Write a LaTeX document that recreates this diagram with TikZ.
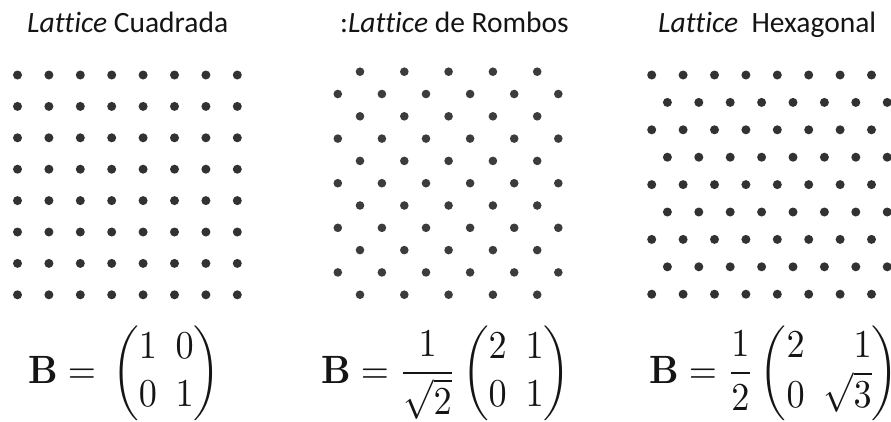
\documentclass[tikz,border=0pt]{standalone}
\usepackage{amsmath}
\usepackage{mathtools}
\usepackage{graphicx}
\usepackage[no-math]{fontspec}
\usepackage{tikz}
\usetikzlibrary{positioning}
\newfontfamily\calibfont[Ligatures={NoCommon}]{Carlito}
\definecolor{dotgray}{HTML}{323232}
\definecolor{dotlight}{HTML}{3C3C3C}
\definecolor{textdark}{HTML}{151515}
% scaled display formula, a little taller than wide
\newcommand{\bigmath}[1]{\scalebox{3.62}[3.95]{$\displaystyle\setlength\arraycolsep{2.6pt}#1$}}
\tikzset{
  % lattice points
  latdot/.style={fill=dotgray},
  rombdot/.style={fill=dotlight},
  % headings above each lattice
  title/.style={
    font=\calibfont\fontsize{29.5}{34}\selectfont, text=textdark,
    inner sep=0pt, anchor=base west,
  },
  % basis matrices
  formula/.style={inner sep=0pt, anchor=base west, text=textdark},
}

\begin{document}
\begin{tikzpicture}[x=1pt, y=-1pt]
  \useasboundingbox (0,0) rectangle (891,421);

  % headings
  \node[title] (tsq) at (27,32) {\textit{Lattice} Cuadrada};
  \node[title] (trh) at (340,32) {:\textit{Lattice} de Rombos};
  \node[title] (thx) at (658,32) {\textit{Lattice}\ \ Hexagonal};

  % square lattice
  \foreach \i in {0,...,7}
    \foreach \j in {0,...,7}
      \fill[latdot] ({17.5+31.4*\i},{75+31.4*\j}) circle (4.5pt);

  % rhombic lattice
  \foreach \r in {0,2,...,10}
    \foreach \k in {0,...,4}
      \fill[rombdot] ({360+44.3*\k},{71.7+22.3*\r}) circle (4.3pt);
  \foreach \r in {1,3,...,9}
    \foreach \k in {0,...,5}
      \fill[rombdot] ({337.8+44.1*\k},{71.7+22.3*\r}) circle (4.3pt);

  % hexagonal lattice
  \foreach \r in {0,2,...,8}
    \foreach \k in {0,...,7}
      \fill[latdot] ({651.7+31.4*\k},{75+27.4*\r}) circle (4.5pt);
  \foreach \r in {1,3,...,7}
    \foreach \k in {0,...,7}
      \fill[latdot] ({667.4+31.4*\k},{75+27.4*\r}) circle (4.5pt);

  % basis matrices
  \node[formula] (bsq) at (28,383)
    {\bigmath{\mathbf{B} = \,\begin{pmatrix}1&0\\0&1\end{pmatrix}}};
  \node[formula] (brh) at (321,383)
    {\bigmath{\mathbf{B} = \frac{1}{\sqrt{2}}\begin{pmatrix}2&1\\0&1\end{pmatrix}}};
  \node[formula] (bhx) at (649,383)
    {\bigmath{\mathbf{B} = \frac{1}{2}\begin{pmatrix*}[r]2&1\\0&\sqrt{3}\end{pmatrix*}}};
\end{tikzpicture}
\end{document}
